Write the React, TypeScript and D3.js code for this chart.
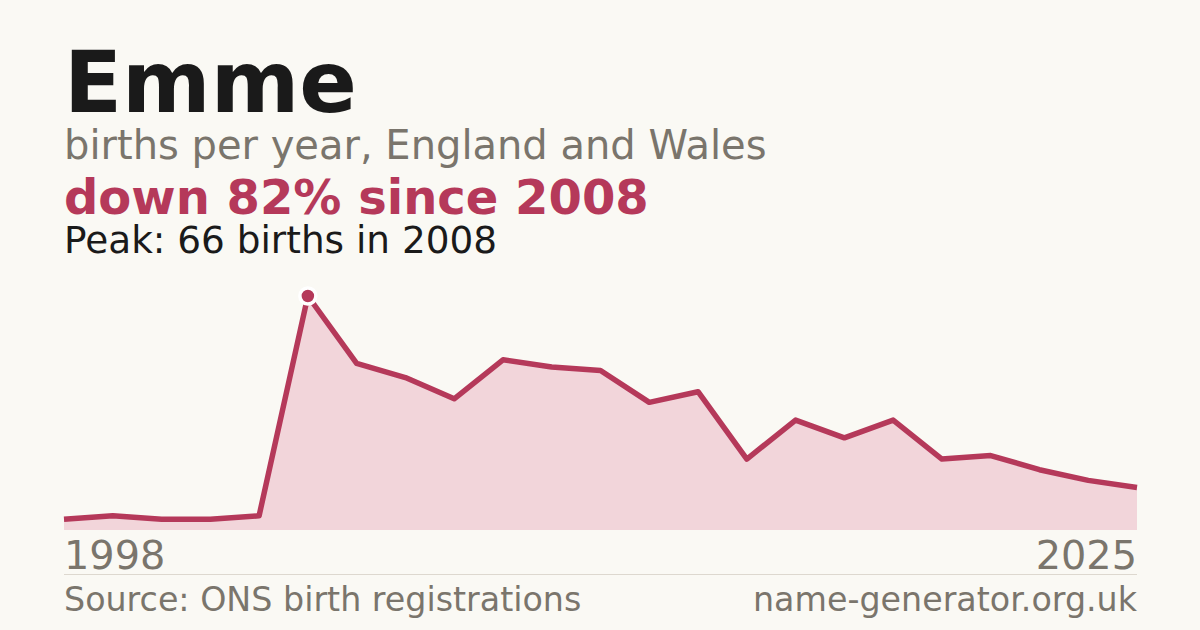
import React from 'react';
import * as d3 from 'd3';

// years with published counts (gaps before 2008 are suppressed low counts)
const years = [1998, 2004, 2005, 2006, 2007, 2008, 2009, 2010, 2011, 2012, 2013, 2014, 2015, 2016, 2017, 2018, 2019, 2020, 2021, 2022, 2023, 2024, 2025];
const births = [3, 4, 3, 3, 4, 66, 47, 43, 37, 48, 46, 45, 36, 39, 20, 31, 26, 31, 20, 21, 17, 14, 12];
const axisLabels = ['1998', '2025'];

const W = 1200;
const H = 630;
const left = 64;
const right = 1137;
const base = 530;
const top = 296;

const RED = '#b5395a';
const GREY = '#7a756c';
const FONT = '"DejaVu Sans", sans-serif';

export default function App() {
  const x = d3.scalePoint<number>().domain(years).range([left, right]);
  const y = d3.scaleLinear().domain([0, d3.max(births) || 0]).range([base, top]);

  const pts = years.map((yr, i) => ({ yr, v: births[i] }));
  const area = d3.area<{ yr: number; v: number }>()
    .x(d => x(d.yr) || 0)
    .y0(base)
    .y1(d => y(d.v));
  const line = d3.line<{ yr: number; v: number }>()
    .x(d => x(d.yr) || 0)
    .y(d => y(d.v));

  const peakIdx = births.indexOf(d3.max(births) || 0);
  const peak = pts[peakIdx];

  return (
    <svg width={W} height={H} style={{ display: 'block', position: 'absolute', left: 0, top: 0 }} fontFamily={FONT}>
      <rect width={W} height={H} fill="#faf9f4" />

      <text x={left} y={112} fontSize={85} fontWeight="bold" fill="#1a1a1a">Emme</text>
      <text x={left} y={159} fontSize={40} fill={GREY}>births per year, England and Wales</text>
      <text x={left} y={214} fontSize={48} fontWeight="bold" fill={RED}>down 82% since 2008</text>
      <text x={left} y={253} fontSize={37.4} fill="#1a1a1a">Peak: 66 births in 2008</text>

      <path d={area(pts) || ''} fill="#f2d5da" />
      <path d={line(pts) || ''} fill="none" stroke={RED} strokeWidth={5.5} strokeLinejoin="round" />
      <circle cx={x(peak.yr)} cy={y(peak.v)} r={8} fill={RED} stroke="#ffffff" strokeWidth={3.5} />

      <text x={left} y={569} fontSize={39.8} fill={GREY}>{axisLabels[0]}</text>
      <text x={right} y={569} fontSize={39.8} fill={GREY} textAnchor="end">{axisLabels[1]}</text>

      <line x1={left} x2={right} y1={574.5} y2={574.5} stroke="#ddd8cf" strokeWidth={1} />

      <text x={left} y={611} fontSize={33.3} fill={GREY}>Source: ONS birth registrations</text>
      <text x={right} y={611} fontSize={33.3} fill={GREY} textAnchor="end">name-generator.org.uk</text>
    </svg>
  );
}
